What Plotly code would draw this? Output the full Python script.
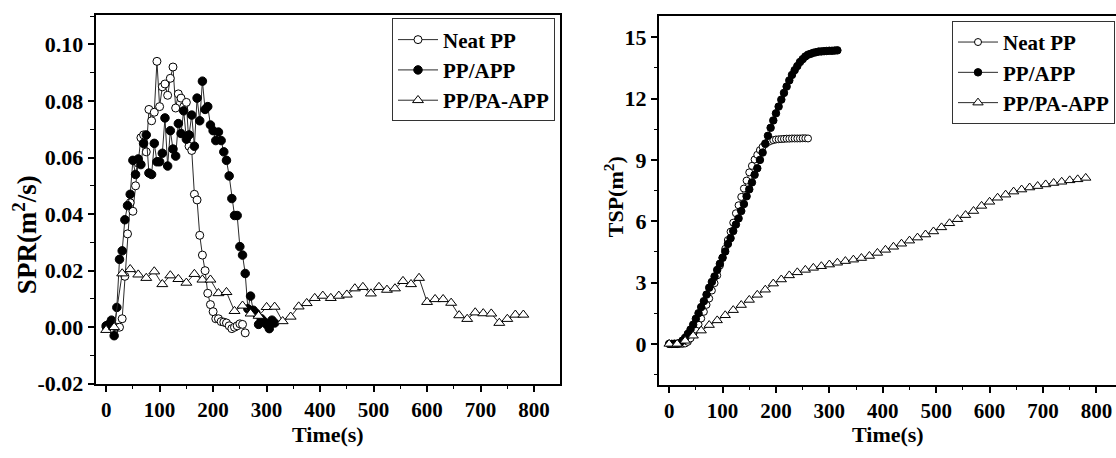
import plotly.graph_objects as go

# ---------------- data ----------------
t_neat = [0, 5, 10, 15, 20, 25, 30, 35, 40, 45, 50, 55, 60, 65, 70, 75, 80, 85, 90, 95,
          100, 105, 110, 115, 120, 125, 130, 135, 140, 145, 150, 155, 160, 165, 170, 175,
          180, 185, 190, 195, 200, 205, 210, 215, 220, 225, 230, 235, 240, 245, 250, 255, 260]
t_app = [0, 5, 10, 15, 20, 25, 30, 35, 40, 45, 50, 55, 60, 65, 70, 75, 80, 85, 90, 95,
         100, 105, 110, 115, 120, 125, 130, 135, 140, 145, 150, 155, 160, 165, 170, 175,
         180, 185, 190, 195, 200, 205, 210, 215, 220, 225, 230, 235, 240, 245, 250, 255,
         260, 265, 270, 275, 280, 285, 290, 295, 300, 305, 310, 315]
t_pa = [0, 15, 30, 45, 60, 75, 90, 105, 120, 135, 150, 165, 180, 195, 210, 225, 240, 255,
        270, 285, 300, 315, 330, 345, 360, 375, 390, 405, 420, 435, 450, 465, 480, 495,
        510, 525, 540, 555, 570, 585, 600, 615, 630, 645, 660, 675, 690, 705, 720, 735,
        750, 765, 780]

spr_neat = [0.000, 0.000, 0.001, -0.001, 0.000, 0.000, 0.003, 0.018, 0.033, 0.044, 0.041,
            0.050, 0.058, 0.067, 0.068, 0.062, 0.077, 0.073, 0.076, 0.094, 0.078, 0.085,
            0.086, 0.082, 0.088, 0.092, 0.0775, 0.0825, 0.081, 0.078, 0.0795, 0.064, 0.0625,
            0.047, 0.045, 0.0325, 0.0255, 0.020, 0.012, 0.008, 0.0055, 0.003, 0.003, 0.002,
            0.0018, 0.0015, 0.0005, -0.0005, 0.000, 0.0005, 0.0012, 0.001, -0.002]
spr_app = [0.0005, 0.001, 0.0025, -0.003, 0.007, 0.024, 0.027, 0.038, 0.043, 0.047, 0.059,
           0.054, 0.0595, 0.0575, 0.065, 0.068, 0.0545, 0.054, 0.065, 0.0585, 0.0585, 0.0615,
           0.074, 0.057, 0.0695, 0.063, 0.0605, 0.072, 0.0685, 0.0765, 0.0665, 0.068, 0.075,
           0.064, 0.081, 0.073, 0.087, 0.077, 0.078, 0.0715, 0.0695, 0.066, 0.069, 0.066,
           0.062, 0.059, 0.0535, 0.0455, 0.0395, 0.0395, 0.0285, 0.0255, 0.019, 0.0065,
           0.011, 0.006, 0.005, 0.001, 0.003, 0.002, 0.001, -0.0005, 0.0025, 0.0015]
spr_pa = [-0.001, 0.000, 0.019, 0.0205, 0.0186, 0.0174, 0.0197, 0.0152, 0.0183, 0.017,
          0.0157, 0.0188, 0.0168, 0.0168, 0.012, 0.0124, 0.0057, 0.0076, 0.0048, 0.004,
          0.0071, 0.0072, 0.0021, 0.0037, 0.0073, 0.0085, 0.0103, 0.0111, 0.0103, 0.0111,
          0.0115, 0.0137, 0.0142, 0.0119, 0.0142, 0.0132, 0.0137, 0.0163, 0.0152, 0.0174,
          0.0089, 0.0099, 0.0099, 0.0086, 0.0042, 0.0029, 0.0052, 0.0049, 0.0048, 0.0015,
          0.0029, 0.0044, 0.0044]

tsp_neat = [0, 0, 0, 0, 0, 0, 0.02, 0.1, 0.27, 0.49, 0.7, 0.95, 1.24, 1.57, 1.91, 2.22, 2.61,
            2.97, 3.35, 3.83, 4.22, 4.65, 5.08, 5.49, 5.93, 6.39, 6.78, 7.19, 7.6, 7.99, 8.39,
            8.71, 9.02, 9.25, 9.48, 9.64, 9.77, 9.87, 9.93, 9.97, 10.0, 10.01, 10.02, 10.03,
            10.04, 10.04, 10.05, 10.05, 10.05, 10.05, 10.06, 10.06, 10.05]
tsp_app = [0, 0, 0.01, 0.0, 0.04, 0.16, 0.3, 0.49, 0.7, 0.94, 1.23, 1.5, 1.8, 2.09, 2.41,
           2.75, 3.03, 3.3, 3.62, 3.92, 4.21, 4.52, 4.89, 5.17, 5.52, 5.84, 6.14, 6.5, 6.84,
           7.22, 7.56, 7.9, 8.27, 8.59, 9.0, 9.36, 9.8, 10.18, 10.57, 10.93, 11.28, 11.61,
           11.95, 12.28, 12.59, 12.89, 13.16, 13.39, 13.59, 13.79, 13.93, 14.06, 14.15,
           14.19, 14.24, 14.27, 14.3, 14.31, 14.32, 14.33, 14.34, 14.34, 14.35, 14.36]
tsp_pa = [0, 0, 0.15, 0.4, 0.65, 0.92, 1.15, 1.4, 1.65, 1.9, 2.15, 2.4, 2.65, 2.95, 3.15,
          3.35, 3.5, 3.62, 3.72, 3.8, 3.88, 3.97, 4.05, 4.12, 4.2, 4.3, 4.45, 4.6, 4.75, 4.9,
          5.05, 5.2, 5.35, 5.5, 5.7, 5.9, 6.1, 6.3, 6.5, 6.75, 6.95, 7.15, 7.3, 7.45, 7.55,
          7.65, 7.72, 7.8, 7.87, 7.93, 8.0, 8.05, 8.12]

series_names = ["Neat PP", "PP/APP", "PP/PA-APP"]
x_ticks = [0, 100, 200, 300, 400, 500, 600, 700, 800]
spr_ticks = [-0.02, 0.00, 0.02, 0.04, 0.06, 0.08, 0.10]
spr_ticktext = ["-0.02", "0.00", "0.02", "0.04", "0.06", "0.08", "0.10"]
tsp_ticks = [0, 3, 6, 9, 12, 15]

# ---------------- figure ----------------
W, H = 1116, 458
FONT = "Liberation Serif"
LINE = "#2a2a2a"

def px_x(p):
    return p / W

def px_y(p):
    return 1 - p / H

styles = [
    dict(symbol="circle", color="white", line=dict(color="black", width=1)),
    dict(symbol="circle", color="black", line=dict(color="black", width=1)),
    dict(symbol="triangle-up", color="white", line=dict(color="black", width=1)),
]

fig = go.Figure()
left = [(t_neat, spr_neat), (t_app, spr_app), (t_pa, spr_pa)]
right = [(t_neat, tsp_neat), (t_app, tsp_app), (t_pa, tsp_pa)]
sizes_l = [8, 8.5, 9.5]
sizes_r = [7, 7.5, 9]

for i, (x, y) in enumerate(left):
    fig.add_trace(go.Scatter(
        x=x, y=y, mode="lines+markers", name=series_names[i],
        line=dict(color=LINE, width=1),
        marker=dict(size=sizes_l[i], **styles[i]),
        xaxis="x", yaxis="y", legend="legend"))
for i, (x, y) in enumerate(right):
    fig.add_trace(go.Scatter(
        x=x, y=y, mode="lines+markers", name=series_names[i],
        line=dict(color=LINE, width=1),
        marker=dict(size=sizes_r[i], **styles[i]),
        xaxis="x2", yaxis="y2", legend="legend2"))

xtickfont = dict(family=FONT, size=21, color="black", weight="bold")
ytickfont = dict(family=FONT, size=22, color="black", weight="bold")
axis_common = dict(showline=True, linecolor="black", linewidth=2, ticks="outside",
                   ticklen=6, tickwidth=1.5, tickcolor="black", showgrid=False,
                   zeroline=False)
minor_common = dict(ticks="outside", ticklen=3.5, tickcolor="black", tickwidth=1.2)
legend_font = dict(family=FONT, size=21, color="black", weight="bold")

fig.update_layout(
    width=W, height=H, margin=dict(l=0, r=0, t=0, b=0),
    paper_bgcolor="white", plot_bgcolor="white",
    font=dict(family=FONT, color="black", weight="bold"),
    xaxis=dict(domain=[px_x(95.7), px_x(560)], range=[-19.5, 848.5], anchor="y",
               tickvals=x_ticks, mirror=True, tickfont=xtickfont,
               minor=dict(dtick=50, tick0=0, **minor_common), **axis_common),
    yaxis=dict(domain=[px_y(395), px_y(15.7)], range=[-0.02, 0.1103], anchor="x",
               tickvals=spr_ticks, ticktext=spr_ticktext, mirror=True, tickfont=ytickfont,
               minor=dict(dtick=0.01, tick0=0, **minor_common), **axis_common),
    xaxis2=dict(domain=[px_x(659), 1.0], range=[-19, 836.7], anchor="y2",
                tickvals=x_ticks, mirror=True, tickfont=xtickfont,
                minor=dict(dtick=50, tick0=0, **minor_common), **axis_common),
    yaxis2=dict(domain=[px_y(396), px_y(16.7)], range=[-2.0, 16.03], anchor="x2",
                tickvals=tsp_ticks, mirror=False, tickfont=ytickfont,
                minor=dict(dtick=1.5, tick0=0, **minor_common), **axis_common),
    legend=dict(x=px_x(555), y=px_y(19), xanchor="right", yanchor="top",
                bordercolor="#333", borderwidth=1, bgcolor="white",
                font=legend_font, itemwidth=40, tracegroupgap=0),
    legend2=dict(x=px_x(1115), y=px_y(21.5), xanchor="right", yanchor="top",
                 bordercolor="#333", borderwidth=1, bgcolor="white",
                 font=legend_font, itemwidth=40, tracegroupgap=0),
    showlegend=True,
)

fig.add_annotation(text="SPR(m<sup>2</sup>/s)", x=px_x(25), y=px_y(242), xref="paper", yref="paper",
                   textangle=-90, showarrow=False,
                   font=dict(family=FONT, size=27, color="black", weight="bold"),
                   xanchor="center", yanchor="middle")
fig.add_annotation(text="TSP(m<sup>2</sup>)", x=px_x(614), y=px_y(203), xref="paper", yref="paper",
                   textangle=-90, showarrow=False,
                   font=dict(family=FONT, size=22, color="black", weight="bold"),
                   xanchor="center", yanchor="middle")
for xc in (328, 888):
    fig.add_annotation(text="Time(s)", x=px_x(xc), y=px_y(447), xref="paper", yref="paper",
                       showarrow=False,
                       font=dict(family=FONT, size=22, color="black", weight="bold"),
                       xanchor="center", yanchor="middle")

fig.write_html("out.html", config={"displayModeBar": False},
               post_script="document.body.style.margin='0';document.body.style.overflow='hidden';")
